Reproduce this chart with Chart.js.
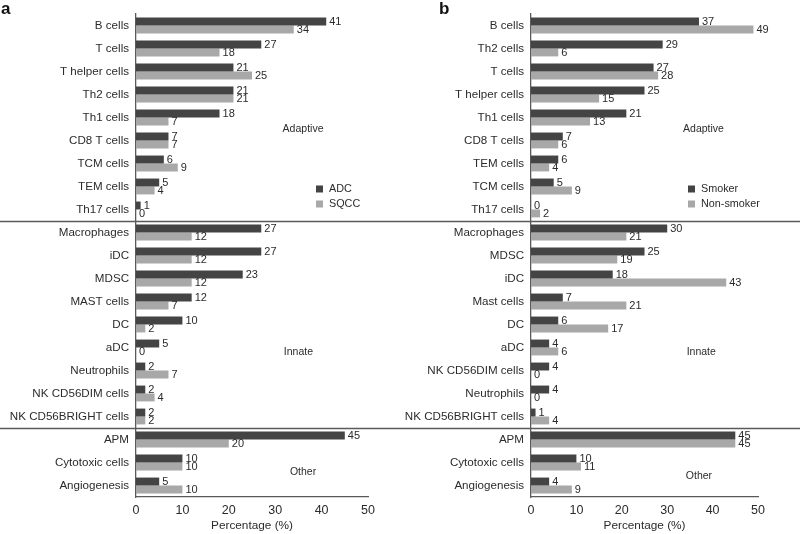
<!DOCTYPE html>
<html>
<head>
<meta charset="utf-8">
<script src="https://cdn.jsdelivr.net/npm/chart.js@4.4.1/dist/chart.umd.min.js"></script>
<style>
  html, body { margin: 0; padding: 0; background: #ffffff; }
  #wrap { position: relative; width: 800px; height: 534px; overflow: hidden; }
  canvas { position: absolute; top: 0; }
  #ca { left: 0; }
  #cb { left: 400px; }
</style>
</head>
<body>
<div id="wrap">
  <canvas id="ca" width="400" height="534"></canvas>
  <canvas id="cb" width="400" height="534"></canvas>
</div>
<script>
// ---- Data (panel a: histology) ----
const categoriesA = ["B cells", "T cells", "T helper cells", "Th2 cells", "Th1 cells", "CD8 T cells", "TCM cells", "TEM cells", "Th17 cells",
  "Macrophages", "iDC", "MDSC", "MAST cells", "DC", "aDC", "Neutrophils", "NK CD56DIM cells", "NK CD56BRIGHT cells",
  "APM", "Cytotoxic cells", "Angiogenesis"];
const adcValues  = [41, 27, 21, 21, 18, 7, 6, 5, 1, 27, 27, 23, 12, 10, 5, 2, 2, 2, 45, 10, 5];
const sqccValues = [34, 18, 25, 21, 7, 7, 9, 4, 0, 12, 12, 12, 7, 2, 0, 7, 4, 2, 20, 10, 10];

// ---- Data (panel b: smoking status) ----
const categoriesB = ["B cells", "Th2 cells", "T cells", "T helper cells", "Th1 cells", "CD8 T cells", "TEM cells", "TCM cells", "Th17 cells",
  "Macrophages", "MDSC", "iDC", "Mast cells", "DC", "aDC", "NK CD56DIM cells", "Neutrophils", "NK CD56BRIGHT cells",
  "APM", "Cytotoxic cells", "Angiogenesis"];
const smokerValues    = [37, 29, 27, 25, 21, 7, 6, 5, 0, 30, 25, 18, 7, 6, 4, 4, 4, 1, 45, 10, 4];
const nonSmokerValues = [49, 6, 28, 15, 13, 6, 4, 9, 2, 21, 19, 43, 21, 17, 6, 0, 0, 4, 45, 11, 9];

const xTicks = [0, 10, 20, 30, 40, 50];
const groupNames = ["Adaptive", "Innate", "Other"];
const groupBreaks = [9, 18]; // category index where a new group starts

const DARK = "#444444";
const LIGHT = "#a8a8a8";
const TEXT = "#2b2b2b";
const AXIS = "#5a5a5a";
const FONT = "'Liberation Sans', Arial, Helvetica, sans-serif";

function makePanel(canvasId, opts) {
  const panelPlugin = {
    id: 'panelDecor_' + canvasId,
    afterDatasetsDraw(chart) {
      const ctx = chart.ctx;
      const xs = chart.scales.x, ys = chart.scales.y;
      ctx.save();
      // value labels
      ctx.font = "11px " + FONT;
      ctx.fillStyle = TEXT;
      ctx.textAlign = "left";
      ctx.textBaseline = "middle";
      chart.data.datasets.forEach((ds, di) => {
        const meta = chart.getDatasetMeta(di);
        meta.data.forEach((el, i) => {
          ctx.fillText(String(ds.data[i]), el.x + 3, el.y + 0.5);
        });
      });
      // group separator lines spanning the full canvas width
      ctx.strokeStyle = AXIS;
      ctx.lineWidth = 1.5;
      groupBreaks.forEach(b => {
        const y = Math.round((ys.getPixelForValue(b - 1) + ys.getPixelForValue(b)) / 2) + 0.5;
        ctx.beginPath();
        ctx.moveTo(0, y);
        ctx.lineTo(chart.width, y);
        ctx.stroke();
      });
      // group names
      ctx.font = "10.5px " + FONT;
      ctx.textAlign = "center";
      groupNames.forEach((g, k) => {
        const p = opts.groupPos[k];
        ctx.fillText(g, xs.getPixelForValue(p[0]), ys.getPixelForValue(p[1]));
      });
      // legend
      ctx.textAlign = "left";
      ctx.font = "10.8px " + FONT;
      opts.legend.forEach((l, k) => {
        const y = opts.legendY[k];
        ctx.fillStyle = l.color;
        ctx.fillRect(opts.legendX, y - 3.5, 7, 7);
        ctx.fillStyle = TEXT;
        ctx.fillText(l.label, opts.legendX + 13, y);
      });
      // panel letter
      ctx.font = "bold 17px " + FONT;
      ctx.fillStyle = "#111";
      ctx.textBaseline = "top";
      ctx.fillText(opts.letter, opts.letterX, 1);
      ctx.restore();
    }
  };

  return new Chart(document.getElementById(canvasId), {
    type: 'bar',
    data: {
      labels: opts.labels,
      datasets: [
        { label: opts.legend[0].label, data: opts.d1, backgroundColor: DARK, borderWidth: 0 },
        { label: opts.legend[1].label, data: opts.d2, backgroundColor: LIGHT, borderWidth: 0 }
      ]
    },
    options: {
      indexAxis: 'y',
      responsive: false,
      animation: false,
      devicePixelRatio: 1,
      layout: { padding: { left: 0, right: opts.padRight, top: 7, bottom: 0 } },
      datasets: { bar: { categoryPercentage: 0.69, barPercentage: 1.0 } },
      plugins: { legend: { display: false }, tooltip: { enabled: false } },
      scales: {
        x: {
          type: 'linear', min: 0, max: 50,
          afterBuildTicks: (s) => { s.ticks = xTicks.map(v => ({ value: v })); },
          afterFit: (s) => { s.height = 37; },
          grid: { display: false, drawTicks: false },
          border: { display: true, color: AXIS, width: 1.3 },
          ticks: { color: TEXT, font: { family: FONT, size: 12.5 }, padding: 6 },
          title: { display: true, text: "Percentage (%)", color: TEXT, font: { family: FONT, size: 11.8 }, padding: { top: 0, bottom: 1 } }
        },
        y: {
          type: 'category',
          afterFit: (s) => { s.width = opts.axisLeft; },
          grid: { display: false, drawTicks: false },
          border: { display: true, color: AXIS, width: 1.3 },
          ticks: { color: TEXT, font: { family: FONT, size: 11.6 }, padding: 7, autoSkip: false }
        }
      }
    },
    plugins: [panelPlugin]
  });
}

Chart.defaults.font.family = FONT;

makePanel('ca', {
  labels: categoriesA, d1: adcValues, d2: sqccValues,
  legend: [{ label: "ADC", color: DARK }, { label: "SQCC", color: LIGHT }],
  axisLeft: 136, padRight: 32,
  legendX: 316, legendY: [189, 204],
  groupPos: [[36, 4.5], [35, 14.2], [36, 19.4]],
  letter: "a", letterX: 1
});

makePanel('cb', {
  labels: categoriesB, d1: smokerValues, d2: nonSmokerValues,
  legend: [{ label: "Smoker", color: DARK }, { label: "Non-smoker", color: LIGHT }],
  axisLeft: 131, padRight: 42,
  legendX: 288, legendY: [189, 204],
  groupPos: [[38, 4.5], [37.5, 14.2], [37, 19.6]],
  letter: "b", letterX: 39
});
</script>
</body>
</html>
